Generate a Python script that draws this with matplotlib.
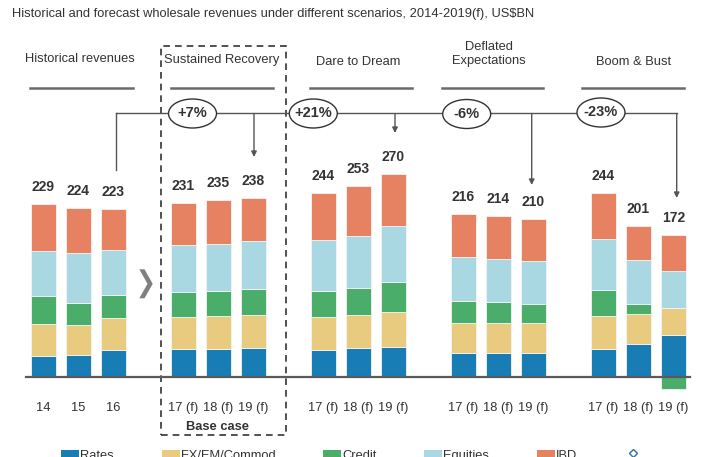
import matplotlib
matplotlib.use("Agg")
import matplotlib.pyplot as plt
from matplotlib.patches import Ellipse, Rectangle, Polygon
import numpy as np

plt.rcParams['font.family'] = ['Liberation Sans', 'DejaVu Sans']

# ---------------- data ----------------
tick_labels = ["14", "15", "16",
               "17 (f)", "18 (f)", "19 (f)",
               "17 (f)", "18 (f)", "19 (f)",
               "17 (f)", "18 (f)", "19 (f)",
               "17 (f)", "18 (f)", "19 (f)"]
positions = [0, 1, 2, 4, 5, 6, 8, 9, 10, 12, 13, 14, 16, 17, 18]
series_names = ["Rates", "FX/EM/Commod", "Credit", "Equities", "IBD"]
rates    = [28, 29, 35.5, 37, 37, 38, 36, 38, 40, 31, 32, 32, 37, 44, 55.5]
fx       = [42.5, 40, 42, 43, 44, 44, 44, 44.5, 46, 40, 39, 39, 44, 40, 35.5]
credit   = [37, 29.5, 31, 33, 33, 34, 34, 36, 40, 30, 28.5, 26, 34, 12.5, -17]
equities = [60, 66.5, 60, 62, 63, 64.5, 68, 69, 74, 58.5, 57.5, 56.5, 68, 58.5, 49.5]
ibd      = [61.5, 59, 54.5, 56, 58, 57.5, 62, 65.5, 70, 56.5, 57, 56.5, 61, 46, 48.5]
totals   = [229, 224, 223, 231, 235, 238, 244, 253, 270, 216, 214, 210, 244, 201, 172]
groups = ["Historical revenues", "Sustained Recovery", "Dare to Dream",
          "Deflated\nExpectations", "Boom & Bust"]
changes = ["+7%", "+21%", "-6%", "-23%"]
title = "Historical and forecast wholesale revenues under different scenarios, 2014-2019(f), US$BN"

colors = ["#177db4", "#e8cb7f", "#4aad69", "#a9d7e2", "#e68262"]
txt = "#333333"
FS = 9.3

# ---------------- figure ----------------
W, H = 709, 457
fig = plt.figure(figsize=(W / 100, H / 100), dpi=100)
ax = fig.add_axes([0, 0, 1, 1])
ax.axis("off")

X0, DX = 43.5, 35.0          # pixel of position 0, pixels per unit
Y0, SY = 376.7, 0.752        # baseline pixel (from top), pixels per value unit
ax.set_xlim(-X0 / DX, (W - X0) / DX)
ax.set_ylim(-(H - Y0) / SY, Y0 / SY)

def px(x, y):
    """pixel (from top-left) -> data coords"""
    return (x - X0) / DX, (Y0 - y) / SY

# stacked bars
vals = [rates, fx, credit, equities, ibd]
pos_cum = np.zeros(len(positions))
neg_cum = np.zeros(len(positions))
for v, c in zip(vals, colors):
    v = np.array(v, dtype=float)
    bottom = np.where(v >= 0, pos_cum, neg_cum)
    ax.bar(positions, v, bottom=bottom, width=0.714, color=c,
           edgecolor="#f4f4f4", linewidth=0.6, zorder=3)
    pos_cum += np.where(v >= 0, v, 0)
    neg_cum += np.where(v < 0, v, 0)

# value labels
for p, top, t in zip(positions, pos_cum, totals):
    ax.text(p, top + 17 / SY, str(t), ha="center", va="center",
            fontsize=10, fontweight="bold", color=txt, zorder=5)

# baseline
x1, y1 = px(26, Y0)
x2, _ = px(690, Y0)
ax.plot([x1, x2], [0, 0], color="#5a5a5a", lw=1.6, zorder=4)

# tick labels
for p, lab in zip(positions, tick_labels):
    ax.text(p, px(0, 408)[1], lab, ha="center", va="center", fontsize=FS, color=txt)

# base case
bx, by = px(218, 427)
ax.text(bx, by, "Base case", ha="center", va="center", fontsize=FS,
        fontweight="bold", color=txt)

# dashed box
(lx, ty), (rx, byy) = px(161.5, 46), px(286, 435)
ax.add_patch(Rectangle((lx, byy), rx - lx, ty - byy, fill=False, ls=(0, (4, 3)),
                       lw=1.2, ec="#333333", zorder=2))

# headers
header_pos = [(80, 59), (222, 60), (358, 62), (489, 54), (634, 62)]
underlines = [(30, 133), (171, 273), (310, 412), (442, 543), (582, 684)]
for g, (hx, hy), (ua, ub) in zip(groups, header_pos, underlines):
    x, y = px(hx, hy)
    ax.text(x, y, g, ha="center", va="center", fontsize=FS, color=txt,
            linespacing=1.2)
    a, uy = px(ua, 87.7)
    b, _ = px(ub, 87.7)
    ax.plot([a, b], [uy, uy], color="#6a6a6a", lw=1.8)

# connectors
lc = "#555555"
LY = 113.5
vx, vtop = px(116.3, LY)
_, vbot = px(116.3, 170)
ax.plot([vx, vx], [vbot, vtop], color=lc, lw=1, zorder=4)
xe, _ = px(676.7, LY)
ax.plot([vx, xe], [vtop, vtop], color=lc, lw=1, zorder=4)
arrows = [(254, 157), (395, 133), (531.7, 185), (676.7, 198)]
for axp, ayp in arrows:
    ax_, ay_ = px(axp, ayp)
    ax.annotate("", xy=(ax_, ay_), xytext=(ax_, vtop),
                arrowprops=dict(arrowstyle="-|>", color=lc, lw=1,
                                mutation_scale=8, shrinkA=0, shrinkB=0),
                zorder=4)

# ellipses
ell_pos = [(192.5, 113.5), (313.3, 113.5), (466.7, 114), (601, 112.5)]
for ch, (ex, ey) in zip(changes, ell_pos):
    cx, cy = px(ex, ey)
    ax.add_patch(Ellipse((cx, cy), 48 / DX, 29 / SY, fc="white", ec="#333333",
                         lw=1, zorder=6))
    ax.text(cx, cy, ch, ha="center", va="center", fontsize=10.5,
            fontweight="bold", color=txt, zorder=7)

# chevron
chev = [(139.3, 269.3), (144.5, 269.3), (152.7, 283.8), (144.5, 298.3),
        (139.3, 298.3), (147.5, 283.8)]
ax.add_patch(Polygon([px(a, b) for a, b in chev], closed=True, fc="#808080",
                     ec="none", zorder=3))

# title
fig.text(12 / W, 1 - 14 / H, title, ha="left", va="center", fontsize=FS, color=txt)

# legend (manual, clipped at bottom as in reference)
leg_boxes = [61, 162, 323, 424, 537]
for name, c, bxp in zip(series_names, colors, leg_boxes):
    x, y = px(bxp, 450)
    ax.add_patch(Rectangle((x, y - 12 / SY), 18 / DX, 12 / SY, fc=c, ec="none",
                           clip_on=False))
    tx, ty2 = px(bxp + 19, 459)
    ax.text(tx, ty2, name, ha="left", va="baseline", fontsize=FS, color=txt)
dx_, dy_ = px(633, 453)
ax.plot([dx_], [dy_], marker="D", ms=4, mfc="white", mec="#2a6fb5", mew=1)

fig.savefig("out.png", dpi=100)
